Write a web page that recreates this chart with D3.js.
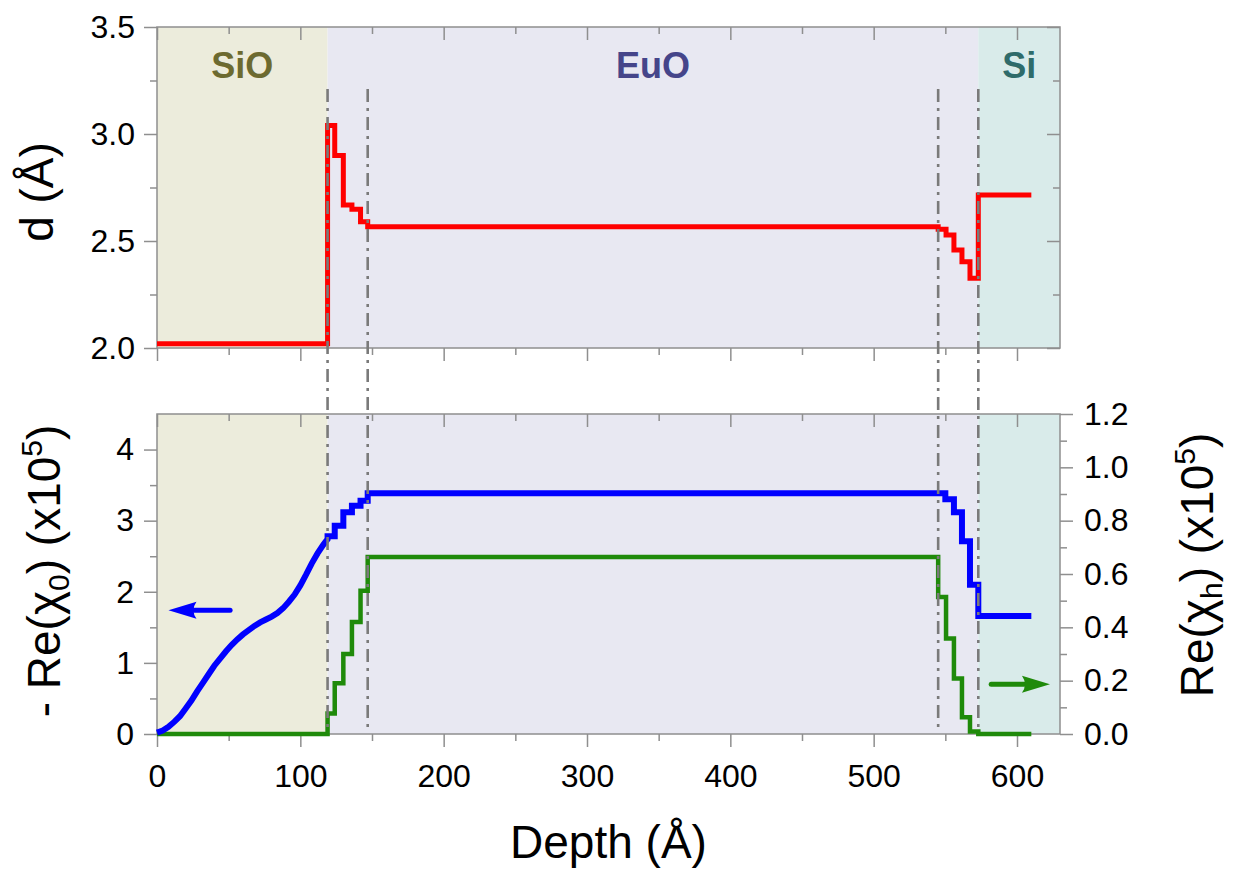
<!DOCTYPE html>
<html>
<head>
<meta charset="utf-8">
<script src="https://cdn.jsdelivr.net/npm/d3@7"></script>
<style>
  html, body { margin: 0; padding: 0; background: #ffffff; }
  svg { display: block; font-family: "Liberation Sans", Arial, sans-serif; }
</style>
</head>
<body>
<svg id="chart" width="1241" height="871"></svg>
<script>
// ---------------- data ----------------
const regionNames = ["SiO", "EuO", "Si"];
const regionStart = [0, 119, 573];
const regionEnd   = [119, 573, 630];

const interfaceDepths = [119, 147, 545, 573];

// interplanar spacing d (Å), layered (step) profile
const dDepth = [0, 119, 124, 130, 136, 142, 147, 545, 550.5, 556, 561.6, 567.2, 573, 610];
const dValue = [2.02, 3.04, 2.90, 2.668, 2.648, 2.590, 2.567, 2.555, 2.528, 2.458, 2.403, 2.326, 2.715, 2.715];

// -Re(chi0) (x10^5): smooth part in SiO
const chi0SmoothDepth = [0, 4, 8, 12, 16, 20, 24, 28, 32, 36, 40, 44, 48, 52, 56, 60, 64, 68, 72, 76, 80, 84, 88, 92, 96, 100, 104, 108, 112, 116, 119];
const chi0SmoothValue = [0.02, 0.05, 0.10, 0.17, 0.25, 0.36, 0.47, 0.60, 0.72, 0.84, 0.96, 1.06, 1.16, 1.25, 1.33, 1.40, 1.46, 1.52, 1.57, 1.61, 1.65, 1.70, 1.77, 1.86, 1.96, 2.09, 2.24, 2.40, 2.54, 2.66, 2.74];
// -Re(chi0): layered part
const chi0StepDepth = [119, 124, 130, 136, 142, 147, 550, 556, 561.6, 567.2, 573, 610];
const chi0StepValue = [2.78, 2.93, 3.12, 3.21, 3.28, 3.385, 3.30, 3.12, 2.71, 2.10, 1.66, 1.66];

// Re(chi_h) (x10^5), layered profile
const chihDepth = [0, 119, 124, 130, 136, 142, 147, 545, 550.5, 556, 561.6, 567.2, 573, 610];
const chihValue = [0, 0.077, 0.19, 0.30, 0.42, 0.537, 0.664, 0.514, 0.358, 0.208, 0.0625, 0.009, 0, 0];

// tick values
const depthMajor = [0, 100, 200, 300, 400, 500, 600];
const depthMinor = [50, 150, 250, 350, 450, 550];
const dMajor = [2.0, 2.5, 3.0, 3.5];
const dMinor = [2.25, 2.75, 3.25];
const chi0Major = [0, 1, 2, 3, 4];
const chi0Minor = [0.5, 1.5, 2.5, 3.5];
const chihMajor = [0.0, 0.2, 0.4, 0.6, 0.8, 1.0, 1.2];
const chihMinor = [0.1, 0.3, 0.5, 0.7, 0.9, 1.1];

// arrows (data coords)
const blueArrowDepth = [51, 8];   // tail, tip
const blueArrowValue = 1.74;
const greenArrowDepth = [582, 623];
const greenArrowValue = 0.187;

// ---------------- styles ----------------
const regionFill  = ["#ECECDC", "#E8E8F2", "#D9EBEA"];
const regionColor = ["#6C6A30", "#45458A", "#2F6B6A"];
const axisColor = "#8f8f8f";

// ---------------- layout ----------------
const L = 157, R = 1060;
const topY0 = 27, topY1 = 348;
const botY0 = 414, botY1 = 734;

const svg = d3.select("#chart");

const x  = d3.scaleLinear().domain([0, 630]).range([L, R]);
const yD = d3.scaleLinear().domain([2.0, 3.5]).range([topY1, topY0]);
const yL = d3.scaleLinear().domain([0, 4.5]).range([botY1, botY0]);
const yR = d3.scaleLinear().domain([0, 1.2]).range([botY1, botY0]);

// backgrounds
[[topY0, topY1], [botY0, botY1]].forEach(([a, b]) => {
  svg.append("g").selectAll("rect")
    .data(regionNames.map((n, i) => ({ n, s: regionStart[i], e: regionEnd[i], i })))
    .join("rect")
    .attr("x", d => x(d.s)).attr("width", d => x(d.e) - x(d.s))
    .attr("y", a).attr("height", b - a)
    .attr("fill", d => regionFill[d.i]);
});

// region labels
svg.append("g").selectAll("text")
  .data(regionNames.map((n, i) => ({ n, c: (regionStart[i] + regionEnd[i]) / 2, i })))
  .join("text")
  .attr("x", d => x(d.c)).attr("y", 78)
  .attr("text-anchor", "middle")
  .attr("font-size", 36).attr("font-weight", "bold")
  .attr("fill", d => regionColor[d.i])
  .text(d => d.n);

// axes helper
function styleAxis(g) {
  g.select(".domain").remove();
  g.selectAll(".tick line").attr("stroke", axisColor).attr("stroke-width", 1.5);
  g.selectAll(".tick text").attr("fill", "#000").attr("font-size", 32)
    .attr("font-family", "'Liberation Sans', Arial, sans-serif");
}
function addAxis(axisFn, scale, values, size, fmt, pad, transform) {
  const ax = axisFn(scale).tickValues(values).tickSize(size).tickSizeOuter(0);
  if (fmt === null) ax.tickFormat(""); else ax.tickFormat(fmt);
  if (pad !== undefined) ax.tickPadding(pad);
  const g = svg.append("g").attr("transform", transform).call(ax);
  styleAxis(g);
  if (fmt === null) g.selectAll(".tick text").remove();
  return g;
}

const MAJ = 13, MIN = 7;
// ---- top panel ----
addAxis(d3.axisLeft, yD, dMajor, MAJ, d3.format(".1f"), 9, `translate(${L},0)`);
addAxis(d3.axisLeft, yD, dMinor, MIN, null, 0, `translate(${L},0)`);
addAxis(d3.axisRight, yD, dMajor, -MAJ, null, 0, `translate(${R},0)`);
addAxis(d3.axisRight, yD, dMinor, -MIN, null, 0, `translate(${R},0)`);
addAxis(d3.axisBottom, x, depthMajor, MAJ, null, 0, `translate(0,${topY1})`);
addAxis(d3.axisBottom, x, depthMinor, MIN, null, 0, `translate(0,${topY1})`);
addAxis(d3.axisTop, x, depthMajor, -MAJ, null, 0, `translate(0,${topY0})`);
addAxis(d3.axisTop, x, depthMinor, -MIN, null, 0, `translate(0,${topY0})`);

// ---- bottom panel ----
addAxis(d3.axisLeft, yL, chi0Major, MAJ, d3.format("d"), 10, `translate(${L},0)`);
addAxis(d3.axisLeft, yL, chi0Minor, MIN, null, 0, `translate(${L},0)`);
addAxis(d3.axisRight, yR, chihMajor, MAJ, d3.format(".1f"), 11, `translate(${R},0)`);
addAxis(d3.axisRight, yR, chihMinor, MIN, null, 0, `translate(${R},0)`);
addAxis(d3.axisBottom, x, depthMajor, MAJ, d3.format("d"), 17, `translate(0,${botY1})`);
addAxis(d3.axisBottom, x, depthMinor, MIN, null, 0, `translate(0,${botY1})`);
addAxis(d3.axisTop, x, depthMajor, -MAJ, null, 0, `translate(0,${botY0})`);
addAxis(d3.axisTop, x, depthMinor, -MIN, null, 0, `translate(0,${botY0})`);

// frames
[[topY0, topY1], [botY0, botY1]].forEach(([a, b]) => {
  svg.append("rect").attr("x", L).attr("y", a).attr("width", R - L).attr("height", b - a)
    .attr("fill", "none").attr("stroke", axisColor).attr("stroke-width", 1.5);
});

// ---------------- curves ----------------
const stepLine = (ys) => d3.line().x(d => x(d[0])).y(d => ys(d[1])).curve(d3.curveStepAfter);

// d profile (red)
svg.append("path")
  .datum(dDepth.map((d, i) => [d, dValue[i]]))
  .attr("d", stepLine(yD))
  .attr("fill", "none").attr("stroke", "#ff0000").attr("stroke-width", 5)
  .attr("stroke-linejoin", "miter");

// chi_h (green)
svg.append("path")
  .datum(chihDepth.map((d, i) => [d, chihValue[i]]))
  .attr("d", stepLine(yR))
  .attr("fill", "none").attr("stroke", "#1f8a0a").attr("stroke-width", 4.5)
  .attr("stroke-linejoin", "miter");

// chi0 (blue): smooth + layered
const chi0Pts = chi0SmoothDepth.map((d, i) => [d, chi0SmoothValue[i]]);
chi0StepDepth.forEach((d, i) => {
  chi0Pts.push([d, chi0StepValue[i]]);
  if (i < chi0StepDepth.length - 1) chi0Pts.push([chi0StepDepth[i + 1], chi0StepValue[i]]);
});
svg.append("path")
  .datum(chi0Pts)
  .attr("d", d3.line().x(d => x(d[0])).y(d => yL(d[1])))
  .attr("fill", "none").attr("stroke", "#0000ff").attr("stroke-width", 6)
  .attr("stroke-linejoin", "miter");

// interface dash-dot lines
svg.append("g").selectAll("line")
  .data(interfaceDepths)
  .join("line")
  .attr("x1", d => x(d)).attr("x2", d => x(d))
  .attr("y1", 89).attr("y2", 728)
  .attr("stroke", "#7a7a7a").attr("stroke-width", 2.6)
  .attr("stroke-dasharray", "13,6,3,6");

// arrows
function arrow(x0, x1, yy, color) {
  const dir = Math.sign(x1 - x0);
  const head = 28, half = 8.5;
  svg.append("line").attr("x1", x0).attr("x2", x1 - dir * head + dir * 2).attr("y1", yy).attr("y2", yy)
    .attr("stroke", color).attr("stroke-width", 5).attr("stroke-linecap", "round");
  svg.append("path")
    .attr("d", `M${x1},${yy} L${x1 - dir * head},${yy - half} Q${x1 - dir * head + dir * 6},${yy} ${x1 - dir * head},${yy + half} Z`)
    .attr("fill", color);
}
arrow(x(blueArrowDepth[0]), x(blueArrowDepth[1]), yL(blueArrowValue), "#0000ff");
arrow(x(greenArrowDepth[0]), x(greenArrowDepth[1]), yR(greenArrowValue), "#1f8a0a");

// ---------------- axis titles ----------------
svg.append("text")
  .attr("x", (L + R) / 2).attr("y", 858).attr("text-anchor", "middle")
  .attr("font-size", 46).attr("fill", "#000").text("Depth (Å)");

svg.append("text")
  .attr("transform", "translate(53,192) rotate(-90)")
  .attr("text-anchor", "middle").attr("font-size", 46).attr("fill", "#000")
  .text("d (Å)");

const tl = svg.append("text")
  .attr("transform", "translate(60,571) rotate(-90)")
  .attr("text-anchor", "middle").attr("font-size", 46).attr("fill", "#000");
tl.append("tspan").text("- Re(χ");
tl.append("tspan").attr("font-size", 30).attr("dy", 9).text("0");
tl.append("tspan").attr("dy", -9).text(")  (x10");
tl.append("tspan").attr("font-size", 30).attr("dy", -18).text("5");
tl.append("tspan").attr("dy", 18).text(")");

const tr = svg.append("text")
  .attr("transform", "translate(1213,565) rotate(-90)")
  .attr("text-anchor", "middle").attr("font-size", 46).attr("fill", "#000");
tr.append("tspan").text("Re(χ");
tr.append("tspan").attr("font-size", 30).attr("dy", 9).text("h");
tr.append("tspan").attr("dy", -9).text(")  (x10");
tr.append("tspan").attr("font-size", 30).attr("dy", -18).text("5");
tr.append("tspan").attr("dy", 18).text(")");
</script>
</body>
</html>
